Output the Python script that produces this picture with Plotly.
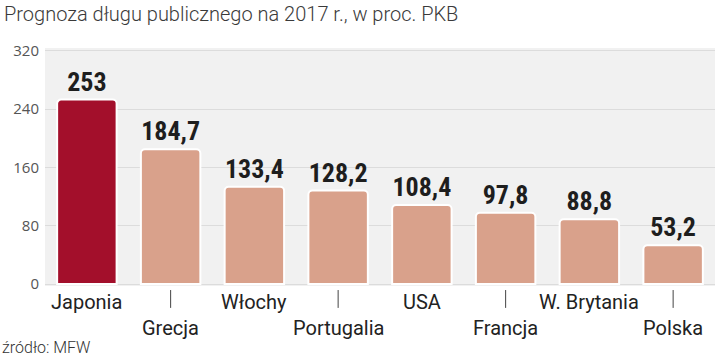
import plotly.graph_objects as go

categories = ["Japonia", "Grecja", "Włochy", "Portugalia", "USA", "Francja", "W. Brytania", "Polska"]
values = [253, 184.7, 133.4, 128.2, 108.4, 97.8, 88.8, 53.2]
value_labels = ["253", "184,7", "133,4", "128,2", "108,4", "97,8", "88,8", "53,2"]
y_ticks = [0, 80, 160, 240, 320]

title_text = "Prognoza długu publicznego na 2017 r., w proc. PKB"
source_text = "źródło: MFW"

colors = ["#a30f2b"] + ["#d9a18b"] * (len(categories) - 1)

fig = go.Figure()
fig.add_trace(go.Bar(
    x=list(range(len(categories))),
    y=values,
    text=value_labels,
    textposition="outside",
    cliponaxis=False,
    textfont=dict(family="Liberation Sans Narrow, Roboto Condensed, Roboto", size=26, color="#1e1e1e", weight="bold"),
    marker=dict(color=colors, line=dict(color="#ffffff", width=2), cornerradius=4),
    hoverinfo="skip",
))

# alternating category labels
for i, c in enumerate(categories):
    lower = i % 2 == 1
    fig.add_annotation(
        x=i, xref="x", y=-0.176 if lower else -0.067, yref="paper",
        text=c, showarrow=False, yanchor="middle", xanchor="center",
        font=dict(family="Roboto, Noto Sans", size=20, color="#222222"),
    )
    if lower:
        fig.add_shape(type="line", x0=i, x1=i, xref="x", y0=-0.017, y1=-0.092, yref="paper",
                      line=dict(color="#444444", width=1))

fig.add_annotation(x=0, xref="paper", xanchor="left", xshift=-45, y=-0.26, yref="paper",
                   text=source_text, showarrow=False, yanchor="middle",
                   font=dict(family="Roboto, Noto Sans", size=16, color="#333333", weight=300))

fig.add_annotation(x=0, xref="paper", xanchor="left", xshift=-43, y=1.143, yref="paper",
                   text=title_text, showarrow=False, yanchor="middle",
                   font=dict(family="Roboto, Noto Sans", size=20, color="#3a3a3a", weight=300))

fig.update_layout(
    width=720, height=358,
    margin=dict(l=45, r=5, t=48, b=72),
    paper_bgcolor="#ffffff",
    plot_bgcolor="#f1f1f1",
    showlegend=False,
    bargap=0.29,
    xaxis=dict(range=[-0.5, 7.5], showticklabels=False, showgrid=False, zeroline=False,
               ticks="", fixedrange=True),
    yaxis=dict(range=[-2.7, 323.7], tickvals=y_ticks, ticktext=[str(v) for v in y_ticks],
               showgrid=True, gridcolor="#dcdcdc", gridwidth=1, zeroline=False,
               tickfont=dict(family="Open Sans, Roboto", size=15, color="#555555"),
               ticks="", ticklabelstandoff=5),
)

fig.write_html("out.html", config={"displayModeBar": False},
               post_script="document.body.style.margin='0';")
